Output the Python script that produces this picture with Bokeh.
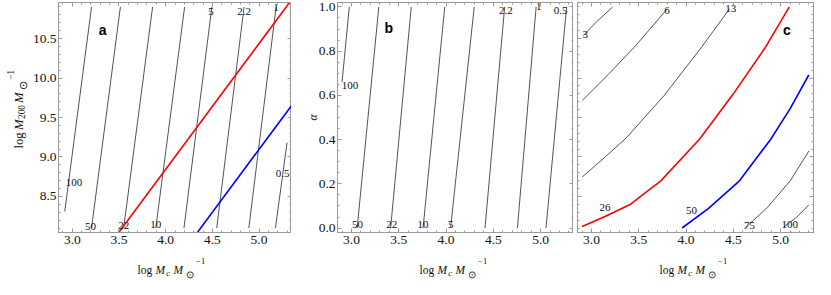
import math
from bokeh.plotting import figure
from bokeh.models import (Range1d, LinearAxis, SingleIntervalTicker, Label,
                          NumeralTickFormatter, CustomLabelingPolicy, ColumnDataSource)
from bokeh.layouts import row, column
from bokeh.embed import file_html
from bokeh.resources import INLINE
from bokeh.core.properties import value

# ---------------- data ----------------
x_range_vals = [2.852, 5.348]
m200_range_vals = [8.044, 10.956]
alpha_range_vals = [-0.02, 1.02]

# panel a : contours in (log Mc, log M200)
a_levels = ["100", "50", "22", "10", "5", "2.2", "1", "0.5"]
a_line_x = [[2.919, 3.206], [3.206, 3.515], [3.550, 3.860], [3.894, 4.203],
            [4.196, 4.495], [4.547, 4.840], [4.891, 5.183], [5.176, 5.300]]
a_line_y = [[8.31, 10.9], [8.1, 10.9], [8.1, 10.9], [8.1, 10.9],
            [8.1, 10.9], [8.1, 10.9], [8.1, 10.9], [8.1, 9.18]]
a_label_x = [3.017, 3.195, 3.550, 3.894, 4.485, 4.840, 5.183, 5.252]
a_label_y = [8.672, 8.125, 8.132, 8.141, 10.844, 10.844, 10.892, 8.797]
a_red_x = [3.47, 5.355]
a_red_y = [8.0, 11.0]
a_blue_x = [4.312, 6.195]
a_blue_y = [8.0, 11.0]

# panel b : contours in (log Mc, alpha)
b_levels = ["100", "50", "22", "10", "5", "2.2", "1", "0.5"]
b_line_x = [[2.900, 2.977], [3.060, 3.289], [3.414, 3.632], [3.757, 3.986],
            [4.048, 4.298], [4.412, 4.620], [4.755, 4.953], [5.057, 5.275]]
b_line_y = [[0.66, 1.0], [0.0, 1.0], [0.0, 1.0], [0.0, 1.0],
            [0.0, 1.0], [0.0, 1.0], [0.0, 1.0], [0.0, 1.0]]
b_label_x = [2.985, 3.063, 3.427, 3.757, 4.051, 4.634, 4.981, 5.213]
b_label_y = [0.646, 0.016, 0.016, 0.016, 0.016, 0.982, 1.000, 0.985]

# panel c : curved contours
c_levels = ["3", "6", "13", "26", "50", "75", "100"]
c_line_x = [
    [2.911, 3.060, 3.223],
    [2.901, 3.174, 3.455, 3.802],
    [2.901, 3.133, 3.369, 3.767, 4.166, 4.461],
    [2.901, 3.143, 3.403, 3.733, 4.142, 4.495, 4.842, 5.091],
    [3.958, 4.235, 4.565, 4.894, 5.098, 5.298],
    [4.617, 4.859, 5.102, 5.300],
    [5.033, 5.171, 5.300],
]
c_line_y = [
    [10.535, 10.72, 10.898],
    [9.715, 10.041, 10.393, 10.877],
    [8.746, 8.988, 9.243, 9.776, 10.393, 10.877],
    [8.120, 8.246, 8.395, 8.698, 9.225, 9.790, 10.393, 10.898],
    [8.101, 8.347, 8.698, 9.222, 9.606, 10.038],
    [8.093, 8.359, 8.698, 9.077],
    [8.113, 8.238, 8.395],
]
c_line_color = ["#404040", "#404040", "#404040", "#ff0000", "#0000ff", "#404040", "#404040"]
c_label_x = [2.935, 3.798, 4.474, 3.143, 4.058, 4.672, 5.098]
c_label_y = [10.550, 10.853, 10.877, 8.359, 8.322, 8.128, 8.140]

panel_letters = ["a", "b", "c"]
letter_pos = [(3.326, 10.609), (3.393, 0.905), (5.067, 10.611)]

# ---------------- style / layout ----------------
TOTAL_H = 279
TOP = 2
FRAME_H = 230
BOTTOM = 20
PANEL_H = TOP + FRAME_H + BOTTOM          # 252
STRIP_H = TOTAL_H - PANEL_H               # 27
FRAME_W = 236
YLAB_W = 29
A_LEFT = 26
B_LEFT = 46
C_LEFT = 4
C_RIGHT = 2
FRAME = "#9a9a9a"
LINE = "#404040"
TXT = "#111111"
SERIF = "Liberation Serif"
TICK_FS = "13.5px"
CLABEL_FS = "11px"
MAIN = "11.5px"
SMALL = "8.5px"
ODOT = "10px"
Y_MAIN = "12.7px"
Y_SMALL = "9.4px"
Y_ODOT = "11px"


def style_axis(ax, interval, labels=True, standoff=3):
    ax.ticker = SingleIntervalTicker(interval=interval,
                                     num_minor_ticks=5 if interval == 0.5 else 4)
    ax.formatter = NumeralTickFormatter(format="0.0")
    ax.axis_line_color = FRAME
    ax.major_tick_line_color = FRAME
    ax.minor_tick_line_color = FRAME
    ax.major_tick_in = 4
    ax.major_tick_out = 0
    ax.minor_tick_in = 2
    ax.minor_tick_out = 0
    ax.major_label_text_font = SERIF
    ax.major_label_text_color = TXT
    if labels:
        ax.major_label_text_font_size = TICK_FS
        ax.major_label_standoff = standoff
    else:
        ax.major_label_text_font_size = "0px"
        ax.major_label_standoff = 0
        ax.major_label_policy = CustomLabelingPolicy(code="return []")


def make_panel(width, left, right, yr, yint, ylabels):
    p = figure(width=width, height=PANEL_H, x_range=Range1d(*x_range_vals),
               y_range=Range1d(*yr), output_backend="svg", toolbar_location=None,
               min_border_left=left, min_border_right=right,
               min_border_top=TOP, min_border_bottom=BOTTOM)
    p.grid.visible = False
    p.outline_line_color = FRAME
    p.background_fill_color = "white"
    p.border_fill_color = "white"
    style_axis(p.xaxis[0], 0.5, True)
    style_axis(p.yaxis[0], yint, ylabels, standoff=2)
    top = LinearAxis()
    style_axis(top, 0.5, False)
    p.add_layout(top, "above")
    rgt = LinearAxis()
    style_axis(rgt, yint, False)
    p.add_layout(rgt, "right")
    return p


def draw_lines(p, xs_list, ys_list, colors=None, width=0.9):
    for i, (xs, ys) in enumerate(zip(xs_list, ys_list)):
        col = LINE if colors is None else colors[i]
        w = width if col == LINE else 1.6
        p.line(xs, ys, line_color=col, line_width=w)


def draw_labels(p, xs, ys, texts):
    p.text(x=xs, y=ys, text=texts, text_font=value(SERIF),
           text_font_size=CLABEL_FS, text_align="center", text_baseline="middle",
           text_color=TXT)


def draw_letter(p, i):
    x, y = letter_pos[i]
    p.add_layout(Label(x=x, y=y, text=panel_letters[i], text_font="Liberation Sans",
                       text_font_style="bold", text_font_size="14px",
                       text_align="center", text_baseline="middle", text_color="black"))


def blank_fig(w, h):
    f = figure(width=w, height=h, x_range=Range1d(0, w), y_range=Range1d(0, h),
               output_backend="svg", toolbar_location=None,
               x_axis_location=None, y_axis_location=None,
               min_border_left=0, min_border_right=0, min_border_top=0,
               min_border_bottom=0)
    f.grid.visible = False
    f.outline_line_color = None
    f.background_fill_color = "white"
    f.border_fill_color = "white"
    return f


# ---------------- panels ----------------
pa = make_panel(A_LEFT + FRAME_W, A_LEFT, 0, m200_range_vals, 0.5, True)
draw_lines(pa, a_line_x, a_line_y)
pa.line(a_red_x, a_red_y, line_color="#ff0000", line_width=1.6)
pa.line(a_blue_x, a_blue_y, line_color="#0000ff", line_width=1.6)
draw_labels(pa, a_label_x, a_label_y, a_levels)
draw_letter(pa, 0)

pb = make_panel(B_LEFT + FRAME_W, B_LEFT, 0, alpha_range_vals, 0.2, True)
draw_lines(pb, b_line_x, b_line_y)
draw_labels(pb, b_label_x, b_label_y, b_levels)
draw_letter(pb, 1)
pb.yaxis[0].axis_label = "\u03b1"
pb.yaxis[0].axis_label_text_font = SERIF
pb.yaxis[0].axis_label_text_font_style = "italic"
pb.yaxis[0].axis_label_text_font_size = MAIN
pb.yaxis[0].axis_label_text_color = TXT
pb.yaxis[0].axis_label_standoff = -3

pc = make_panel(C_LEFT + FRAME_W + C_RIGHT, C_LEFT, C_RIGHT, m200_range_vals, 0.5, False)
draw_lines(pc, c_line_x, c_line_y, c_line_color)
draw_labels(pc, c_label_x, c_label_y, c_levels)
draw_letter(pc, 2)

# ---------------- axis titles (composite, with sub/superscripts) ----------------
# y title of panel a: rotated text in a narrow strip left of panel a
ylab = blank_fig(YLAB_W, PANEL_H)
yc = PANEL_H - (TOP + FRAME_H / 2.0)      # frame centre, strip coordinates
ys0 = yc - 43.0
YB = 18.0                                  # main baseline (x, strip coords)
ylab_src = ColumnDataSource(dict(
    text=["log", "M", "200", "M", "\u2299", "\u22121"],
    x=[YB, YB, YB + 3.4, YB, YB + 4.0, YB - 8.5],
    y=[ys0, ys0 + 20.2, ys0 + 32.3, ys0 + 50.0, ys0 + 64.4, ys0 + 75.4],
    size=[Y_MAIN, Y_MAIN, Y_SMALL, Y_MAIN, Y_ODOT, Y_SMALL],
    style=["normal", "italic", "normal", "italic", "normal", "normal"],
))
ylab.text(x="x", y="y", text="text", source=ylab_src, text_font=value(SERIF),
          text_font_size="size", text_font_style="style", angle=math.pi / 2,
          text_align="left", text_baseline="alphabetic", text_color=TXT)

# x titles of all panels: one strip under the row of panels
TOTAL_W = YLAB_W + A_LEFT + FRAME_W + B_LEFT + FRAME_W + C_LEFT + FRAME_W + C_RIGHT
strip = blank_fig(TOTAL_W, STRIP_H)
a0 = YLAB_W + A_LEFT
b0 = a0 + FRAME_W + B_LEFT
c0 = b0 + FRAME_W + C_LEFT
centers = [a0 + FRAME_W / 2.0, b0 + FRAME_W / 2.0, c0 + FRAME_W / 2.0]
pieces = ["log", "M", "c", "M", "\u2299", "\u22121"]
dx = [-36.0, -18.0, -7.2, 0.0, 12.6, 22.6]
base_y = [269.0, 269.0, 272.0, 269.0, 274.0, 260.5]   # canvas pixels from top
sizes = [MAIN, MAIN, SMALL, MAIN, ODOT, SMALL]
styles = ["normal", "italic", "italic", "italic", "normal", "normal"]
sx, sy, st, ss, sst = [], [], [], [], []
for c in centers:
    for t, d, by, sz, stl in zip(pieces, dx, base_y, sizes, styles):
        sx.append(c + d)
        sy.append(TOTAL_H - by)
        st.append(t)
        ss.append(sz)
        sst.append(stl)
strip_src = ColumnDataSource(dict(x=sx, y=sy, text=st, size=ss, style=sst))
strip.text(x="x", y="y", text="text", source=strip_src, text_font=value(SERIF),
           text_font_size="size", text_font_style="style",
           text_align="left", text_baseline="alphabetic", text_color=TXT)

layout = column(row(ylab, pa, pb, pc), strip)
open("out.html", "w").write(file_html(layout, INLINE))
